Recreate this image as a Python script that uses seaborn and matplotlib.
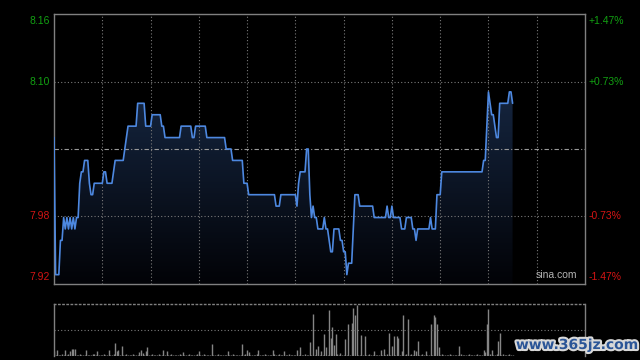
import matplotlib
matplotlib.use("Agg")
import matplotlib.pyplot as plt
import matplotlib.patheffects as pe
from matplotlib.colors import LinearSegmentedColormap
from matplotlib.patches import Polygon
import seaborn as sns
import numpy as np
import pandas as pd

# previous close and label text
prev_close = 8.04
left_labels = ["8.16", "8.10", "7.98", "7.92"]
right_labels = ["+1.47%", "+0.73%", "-0.73%", "-1.47%"]
label_colors = ["#12a012", "#12a012", "#d41414", "#d41414"]

# minute prices (HK session, 9:30 - ~15:15)
prices = [
    8.05, 7.93, 7.93, 7.93, 7.96, 7.96, 7.98, 7.97, 7.98, 7.97,
    7.98, 7.97, 7.98, 7.97, 7.98, 7.98, 8.01, 8.02, 8.02, 8.03,
    8.03, 8.03, 8.01, 8.00, 8.00, 8.01, 8.01, 8.01, 8.01, 8.01,
    8.01, 8.02, 8.02, 8.01, 8.01, 8.01, 8.01, 8.02, 8.03, 8.03,
    8.03, 8.03, 8.03, 8.03, 8.04, 8.05, 8.06, 8.06, 8.06, 8.06,
    8.06, 8.06, 8.08, 8.08, 8.08, 8.08, 8.08, 8.06, 8.06, 8.06,
    8.06, 8.07, 8.07, 8.07, 8.07, 8.07, 8.07, 8.06, 8.06, 8.05,
    8.05, 8.05, 8.05, 8.05, 8.05, 8.05, 8.05, 8.05, 8.05, 8.06,
    8.06, 8.06, 8.06, 8.06, 8.06, 8.06, 8.05, 8.05, 8.06, 8.06,
    8.06, 8.06, 8.06, 8.06, 8.06, 8.05, 8.05, 8.05, 8.05, 8.05,
    8.05, 8.05, 8.05, 8.05, 8.05, 8.05, 8.05, 8.04, 8.04, 8.04,
    8.04, 8.03, 8.03, 8.03, 8.03, 8.03, 8.03, 8.03, 8.01, 8.01,
    8.01, 8.00, 8.00, 8.00, 8.00, 8.00, 8.00, 8.00, 8.00, 8.00,
    8.00, 8.00, 8.00, 8.00, 8.00, 8.00, 8.00, 8.00, 7.99, 7.99,
    7.99, 8.00, 8.00, 8.00, 8.00, 8.00, 8.00, 8.00, 8.00, 8.00,
    8.00, 7.99, 8.01, 8.02, 8.02, 8.02, 8.02, 8.04, 8.04, 8.00,
    7.98, 7.99, 7.98, 7.98, 7.97, 7.97, 7.97, 7.97, 7.98, 7.97,
    7.97, 7.96, 7.95, 7.95, 7.97, 7.97, 7.97, 7.97, 7.96, 7.96,
    7.95, 7.95, 7.93, 7.94, 7.94, 7.94, 7.97, 8.00, 8.00, 8.00,
    7.99, 7.99, 7.99, 7.99, 7.99, 7.99, 7.99, 7.99, 7.99, 7.98,
    7.98, 7.98, 7.98, 7.98, 7.98, 7.98, 7.98, 7.99, 7.98, 7.98,
    7.99, 7.98, 7.98, 7.98, 7.98, 7.98, 7.97, 7.97, 7.97, 7.98,
    7.98, 7.98, 7.98, 7.97, 7.97, 7.96, 7.97, 7.97, 7.97, 7.97,
    7.97, 7.97, 7.97, 7.97, 7.98, 7.97, 7.97, 7.97, 8.00, 8.00,
    8.00, 8.02, 8.02, 8.02, 8.02, 8.02, 8.02, 8.02, 8.02, 8.02,
    8.02, 8.02, 8.02, 8.02, 8.02, 8.02, 8.02, 8.02, 8.02, 8.02,
    8.02, 8.02, 8.02, 8.02, 8.02, 8.02, 8.02, 8.03, 8.03, 8.06,
    8.09, 8.08, 8.07, 8.07, 8.06, 8.05, 8.05, 8.08, 8.08, 8.08,
    8.08, 8.08, 8.08, 8.09, 8.09, 8.08,
]

# minute volume (thousand shares)
volumes = [
    5, 1, 6, 1, 1, 2, 1, 6, 1, 2,
    5, 7, 7, 7, 1, 1, 2, 1, 1, 1,
    6, 1, 1, 1, 2, 2, 1, 5, 1, 1,
    1, 2, 1, 1, 6, 1, 1, 2, 13, 5,
    6, 1, 10, 1, 1, 2, 1, 1, 1, 2,
    1, 1, 1, 4, 6, 3, 1, 5, 9, 1,
    1, 2, 1, 1, 1, 2, 1, 1, 6, 1,
    5, 1, 1, 2, 1, 1, 1, 1, 2, 1,
    4, 1, 1, 1, 2, 1, 1, 1, 1, 2,
    5, 1, 1, 2, 1, 1, 1, 1, 12, 1,
    1, 1, 2, 1, 1, 1, 1, 1, 5, 1,
    1, 2, 1, 1, 1, 1, 1, 12, 1, 2,
    6, 4, 1, 1, 1, 1, 2, 6, 1, 1,
    1, 2, 1, 1, 1, 1, 6, 2, 1, 1,
    2, 1, 1, 5, 1, 1, 2, 1, 1, 1,
    1, 6, 1, 9, 1, 1, 2, 1, 1, 14,
    1, 42, 1, 7, 10, 1, 5, 1, 22, 9,
    1, 46, 18, 29, 11, 22, 2, 1, 3, 1,
    1, 17, 1, 32, 1, 33, 48, 41, 51, 1,
    1, 21, 1, 20, 1, 1, 2, 1, 1, 5,
    1, 1, 1, 6, 1, 7, 1, 2, 23, 1,
    10, 20, 1, 20, 18, 1, 5, 41, 1, 2,
    37, 1, 2, 1, 6, 5, 15, 1, 1, 2,
    1, 5, 1, 1, 32, 1, 41, 39, 32, 9,
    1, 2, 1, 1, 1, 1, 2, 1, 1, 1,
    1, 1, 10, 2, 1, 1, 1, 1, 2, 1,
    1, 1, 1, 2, 1, 1, 1, 6, 4, 32,
    47, 2, 6, 1, 1, 2, 15, 23, 1, 2,
    1, 1, 1, 2, 1, 1,
]

df = pd.DataFrame({"minute": np.arange(len(prices)), "price": prices, "volume": volumes})

sns.set_style("dark")
plt.rcParams["font.family"] = ["Liberation Sans", "DejaVu Sans"]

fig = plt.figure(figsize=(6.4, 3.6), dpi=100, facecolor="black")
ax = fig.add_axes([54 / 640, 1 - 284 / 360, 531 / 640, 270 / 360])
axv = fig.add_axes([54 / 640, 1 - 356 / 360, 531 / 640, 52 / 360])

span = prev_close * 0.0147
half = prev_close * 0.0073
y0, y1 = prev_close - span, prev_close + span

for a in (ax, axv):
    a.set_facecolor("black")
    a.set_xlim(0, 330)
    a.set_xticks([])
    a.set_yticks([])
    a.grid(False)
    for s in a.spines.values():
        s.set_color("#808080")
        s.set_linewidth(1)
ax.set_ylim(y0, y1)

# gradient area under the price line
grad = LinearSegmentedColormap.from_list("g", ["#020307", "#15253f"])
im = ax.imshow(np.linspace(0, 1, 100).reshape(-1, 1), cmap=grad, aspect="auto",
               origin="lower", extent=[0, df.minute.iloc[-1], y0, max(prices)], zorder=1)
verts = list(zip(df.minute, df.price)) + [(df.minute.iloc[-1], y0), (0, y0)]
patch = Polygon(verts, closed=True, facecolor="none", edgecolor="none")
ax.add_patch(patch)
im.set_clip_path(patch)

# grid
grid_kw = dict(color="#7a7a7a", linewidth=0.8, linestyle=(0, (1, 2)), zorder=2)
for m in range(30, 330, 30):
    ax.axvline(m, **grid_kw)
for yv in (prev_close + half, prev_close - half):
    ax.axhline(yv, **grid_kw)
ax.axhline(prev_close, color="#9a9a9a", linewidth=0.8, linestyle=(0, (4, 2, 1, 2)), zorder=2)

sns.lineplot(data=df, x="minute", y="price", ax=ax, color="#4d88e0", linewidth=1.2, zorder=3)
ax.set_xlabel("")
ax.set_ylabel("")

# axis labels
ypos = [y1, prev_close + half, prev_close - half, y0]
vas = ["top", "center", "center", "bottom"]
offs = [-2, 0, 0, 2]
for lab, rl, c, yv, va, o in zip(left_labels, right_labels, label_colors, ypos, vas, offs):
    ax.annotate(lab, (0, yv), xycoords=("axes fraction", "data"), xytext=(-4, o),
                textcoords="offset pixels", ha="right", va=va, color=c, fontsize=7.5)
    ax.annotate(rl, (1, yv), xycoords=("axes fraction", "data"), xytext=(4, o),
                textcoords="offset pixels", ha="left", va=va, color=c, fontsize=7.5)

ax.text(0.985, 0.015, "sina.com", transform=ax.transAxes, ha="right", va="bottom",
        color="#b4b4b4", fontsize=7.5)

# volume panel
vmax = 52
axv.set_ylim(0, vmax)
axv.vlines(df.minute, 0, df.volume, color="#858585", linewidth=1)
axv.spines["top"].set_linestyle((0, (1, 2)))
axv.spines["bottom"].set_visible(False)
axv.axhline(vmax / 2, **grid_kw)

fig.text(577 / 640, 1 - 345 / 360, "www.365jz.com", ha="center", va="center",
         color="#2b5597", fontsize=10, fontweight="bold", family="DejaVu Sans",
         path_effects=[pe.withStroke(linewidth=3, foreground="#d8d8d8")])

fig.savefig("out.png", dpi=100, facecolor="black")
